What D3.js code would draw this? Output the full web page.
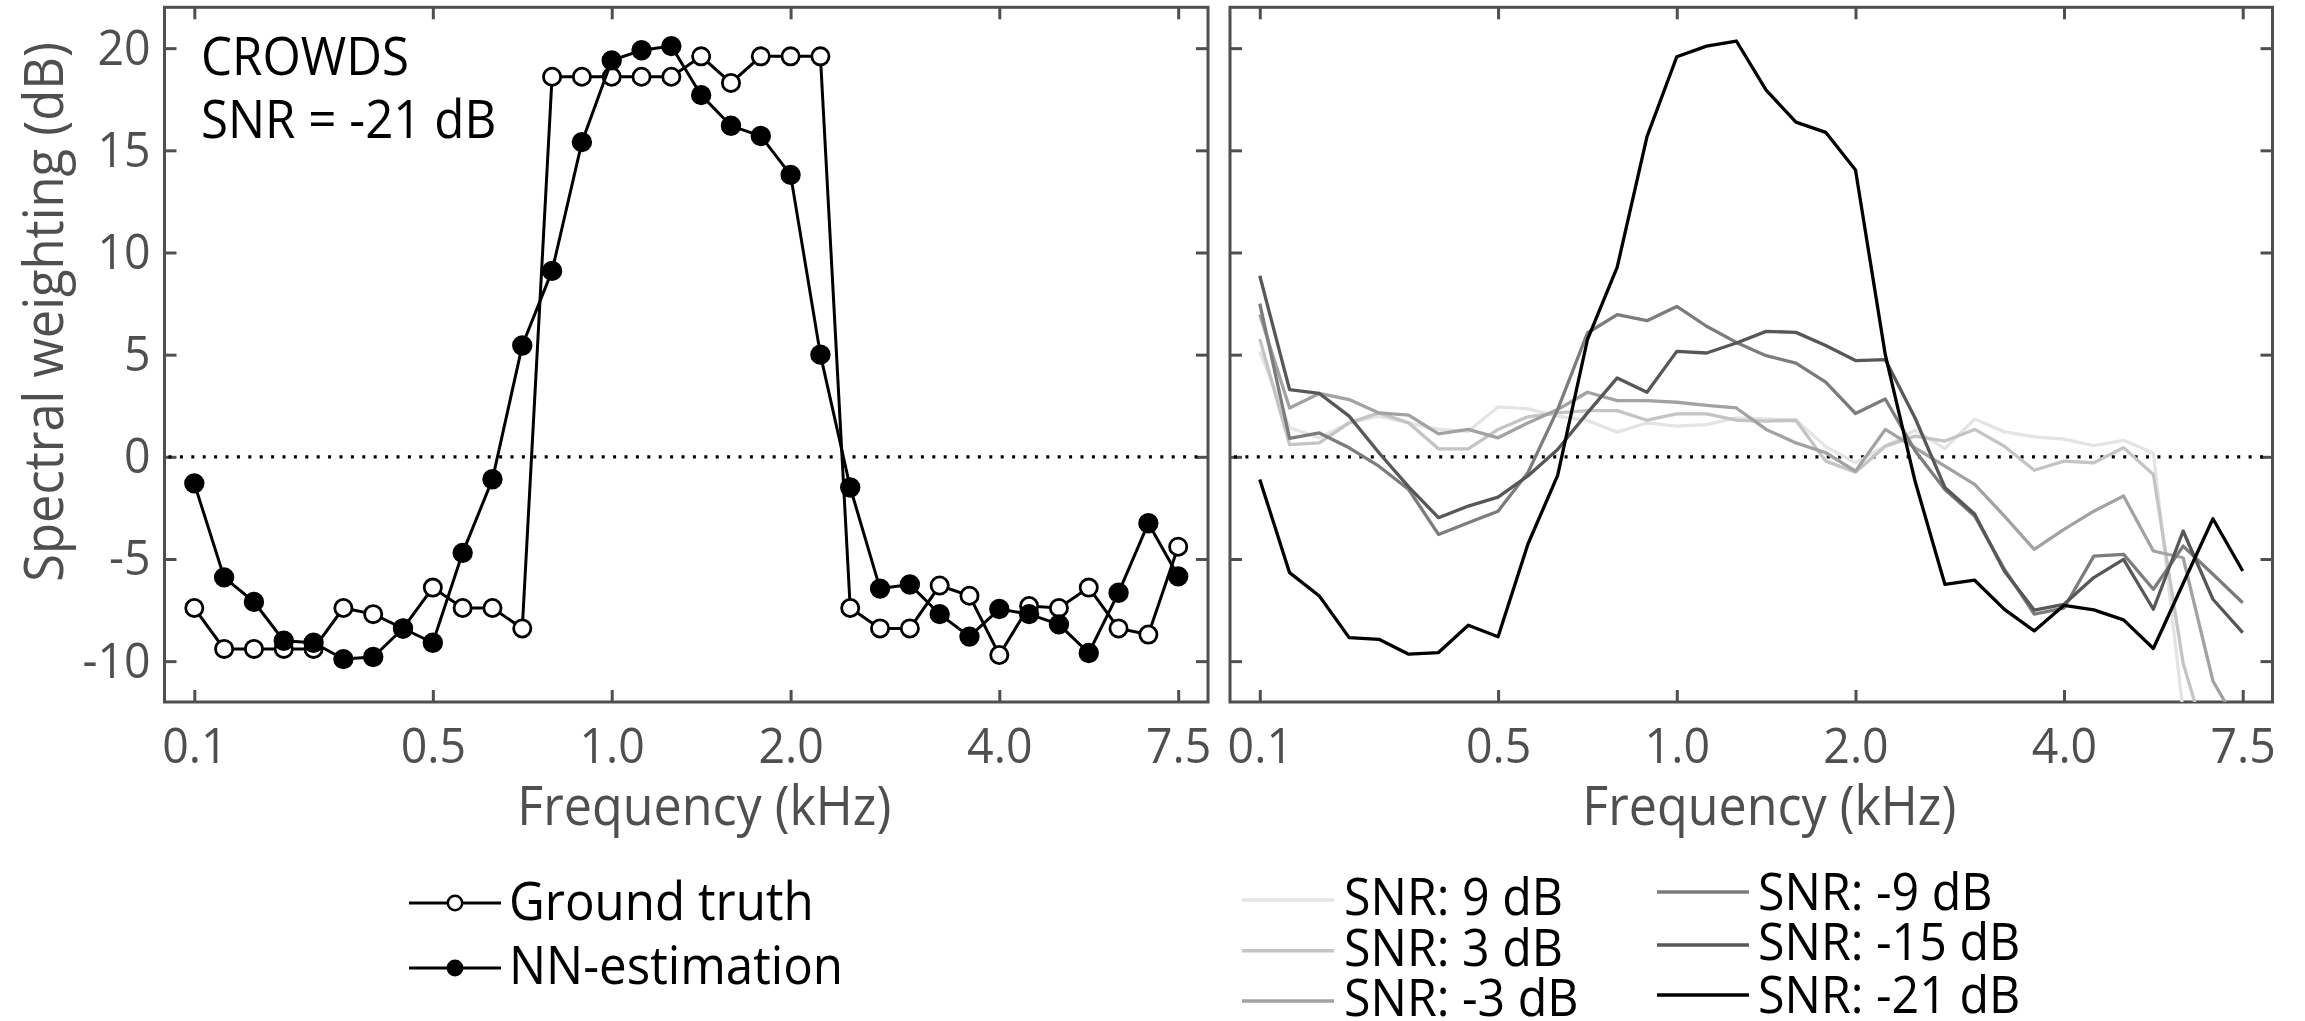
<!DOCTYPE html>
<html><head><meta charset="utf-8">
<script src="https://cdnjs.cloudflare.com/ajax/libs/d3/7.8.5/d3.min.js"></script>
<style>
html,body{margin:0;padding:0;background:#fff;}
svg{display:block;}
text{font-family:"Open Sans",sans-serif;}
</style></head><body>
<svg id="chart" width="2305" height="1021"></svg>
<script>
// ---------- data ----------
const bandIndex = d3.range(34);               // frequency bands (equally spaced on the axis)
const tickIndex = [0, 8, 14, 20, 27, 33];     // band positions of the labelled ticks
const tickLabels = ["0.1", "0.5", "1.0", "2.0", "4.0", "7.5"];
const yTicks = [-10, -5, 0, 5, 10, 15, 20];

const groundTruth = [-7.4,-9.4,-9.4,-9.4,-9.4,-7.4,-7.7,-8.4,-6.4,-7.4,-7.4,-8.4,
  18.6,18.6,18.6,18.6,18.6,19.6,18.3,19.6,19.6,19.6,
  -7.4,-8.4,-8.4,-6.3,-6.8,-9.7,-7.3,-7.4,-6.4,-8.4,-8.7,-4.4];
const nnEstimation = [-1.3,-5.9,-7.1,-9.0,-9.1,-9.9,-9.8,-8.4,-9.1,-4.7,-1.1,5.45,
  9.1,15.4,19.4,19.9,20.1,17.7,16.2,15.7,13.8,5.0,
  -1.5,-6.45,-6.25,-7.7,-8.8,-7.45,-7.7,-8.2,-9.6,-6.65,-3.25,-5.85];

const snrLabels = ["SNR: 9 dB", "SNR: 3 dB", "SNR: -3 dB", "SNR: -9 dB", "SNR: -15 dB", "SNR: -21 dB"];
const snrP9 = [5.16,1.42,0.93,1.66,1.99,1.66,1.34,1.25,2.44,2.35,1.99,1.78,1.21,1.66,1.5,1.58,1.91,
  1.85,1.8,0.5,-0.29,0.52,1.3,0.4,1.85,1.22,0.98,0.87,0.55,0.81,0.18,-12.5,-16,-18];
const snrP3 = [5.77,0.6,0.68,1.66,2.15,1.66,0.39,0.39,1.34,1.96,2.15,2.26,2.26,1.79,2.1,2.1,1.79,
  1.75,1.79,-0.21,-0.75,0.52,1.01,0.77,1.34,0.52,-0.66,-0.21,-0.29,0.45,-0.87,-10.1,-15,-17];
const snrM3 = [6.96,2.39,3.1,2.8,2.15,2.04,1.12,1.34,0.93,1.66,2.31,3.16,2.75,2.75,2.67,2.52,2.39,
  1.34,0.68,0.2,-0.7,1.34,0.44,-0.46,-1.35,-2.9,-4.53,-3.55,-2.66,-1.92,-4.61,-4.94,-10.97,-13.5];
const snrM9 = [7.5,0.9,1.17,0.44,-0.46,-1.6,-3.8,-3.23,-2.66,-0.78,2.31,6.06,6.96,6.66,7.36,6.39,5.6,
  4.95,4.59,3.65,2.12,2.83,0.3,-1.6,-2.9,-5.5,-7.7,-7.4,-4.86,-4.77,-6.48,-4.37,-5.75,-7.14];
const snrM15 = [8.86,3.29,3.1,1.99,0.2,-1.47,-2.98,-2.41,-1.97,-0.94,0.36,2.15,3.86,3.16,5.16,5.08,5.57,
  6.14,6.09,5.45,4.71,4.76,1.9,-1.5,-2.8,-5.6,-7.5,-7.22,-5.91,-5.02,-7.46,-3.63,-6.97,-8.6];
const snrM21 = [-1.11,-5.67,-6.81,-8.85,-8.93,-9.66,-9.58,-8.24,-8.81,-4.28,-0.91,5.73,9.28,15.67,19.58,20.1,20.35,
  17.95,16.38,15.88,14.04,5.0,-1.2,-6.24,-6.04,-7.47,-8.52,-7.27,-7.49,-7.98,-9.38,-6.2,-3.03,-5.59];
const snrSeries = [snrP9, snrP3, snrM3, snrM9, snrM15, snrM21];
const snrColors = ["#e4e4e4", "#c4c4c4", "#a2a2a2", "#7c7c7c", "#575757", "#000000"];

// ---------- drawing ----------
const svg = d3.select("#chart");
const SX = 0.93;          // horizontal squeeze to mimic a narrower humanist face
const axisGray = "#4f4f4f";
const y = d3.scaleLinear().domain([-12, 22]).range([702, 7.3]);
const xL = d3.scaleLinear().domain([-1, 34]).range([164.5, 1208]);
const xR = d3.scaleLinear().domain([-1, 34]).range([1230, 2272.5]);

function stext(g, str, x, yb, size, opts = {}) {
  return g.append("text")
    .attr("transform", `translate(${x},${yb}) ${opts.rotate ? "rotate(-90) " : ""}scale(${SX},1)`)
    .attr("text-anchor", opts.anchor || "start")
    .attr("font-size", size)
    .attr("fill", opts.fill || "#000")
    .text(str);
}

function panel(x, id, showYLabels) {
  const g = svg.append("g");
  const [x0, x1] = x.range();
  const [yb, yt] = y.range();

  g.append("clipPath").attr("id", id).append("rect")
    .attr("x", x0).attr("y", yt).attr("width", x1 - x0).attr("height", yb - yt);

  const styleAxis = sel => {
    sel.select(".domain").remove();
    sel.selectAll(".tick line").attr("stroke", axisGray).attr("stroke-width", 3);
    sel.selectAll(".tick text").attr("fill", axisGray).attr("font-size", 50)
      .attr("font-family", '"Open Sans",sans-serif');
  };

  const bottom = d3.axisBottom(x).tickValues(tickIndex)
    .tickFormat((d, i) => tickLabels[i]).tickSizeInner(-12).tickSizeOuter(0);
  g.append("g").attr("transform", `translate(0,${yb})`).call(bottom).call(styleAxis)
    .call(s => s.selectAll(".tick text").attr("y", 61).attr("dy", null)
      .attr("transform", `scale(${SX},1)`));

  g.append("g").attr("transform", `translate(0,${yt})`)
    .call(d3.axisTop(x).tickValues(tickIndex).tickFormat("").tickSizeInner(-12).tickSizeOuter(0))
    .call(styleAxis);

  const left = d3.axisLeft(y).tickValues(yTicks).tickSizeInner(-12).tickSizeOuter(0).tickPadding(15)
    .tickFormat(d => String(d));
  if (!showYLabels) left.tickFormat("");
  g.append("g").attr("transform", `translate(${x0},0)`).call(left).call(styleAxis)
    .call(s => s.selectAll(".tick text").attr("transform", `scale(${SX},1)`));

  g.append("g").attr("transform", `translate(${x1},0)`)
    .call(d3.axisRight(y).tickValues(yTicks).tickFormat("").tickSizeInner(-12).tickSizeOuter(0))
    .call(styleAxis);

  // zero reference
  g.append("line").attr("x1", x0 + 4).attr("x2", x1 - 4).attr("y1", y(0)).attr("y2", y(0))
    .attr("stroke", "#000").attr("stroke-width", 3.2).attr("stroke-dasharray", "3,8.4");

  // frame
  g.append("rect").attr("x", x0).attr("y", yt).attr("width", x1 - x0).attr("height", yb - yt)
    .attr("fill", "none").attr("stroke", axisGray).attr("stroke-width", 3);

  // axis title
  stext(g, "Frequency (kHz)", (x0 + x1) / 2 + 18, 825, 54, { anchor: "middle", fill: axisGray });
  return g;
}

// ---- left panel ----
const gL = panel(xL, "clipL", true);
stext(gL, "Spectral weighting (dB)", 63, 312, 54.5, { anchor: "middle", fill: axisGray, rotate: true });

const lineL = d3.line().x((d, i) => xL(bandIndex[i])).y(d => y(d));
const plotL = gL.append("g").attr("clip-path", "url(#clipL)");
plotL.append("path").datum(groundTruth).attr("d", lineL)
  .attr("fill", "none").attr("stroke", "#000").attr("stroke-width", 3);
plotL.selectAll("circle.gt").data(groundTruth).join("circle").attr("class", "gt")
  .attr("cx", (d, i) => xL(bandIndex[i])).attr("cy", d => y(d)).attr("r", 8.6)
  .attr("fill", "#fff").attr("stroke", "#000").attr("stroke-width", 2.8);
plotL.append("path").datum(nnEstimation).attr("d", lineL)
  .attr("fill", "none").attr("stroke", "#000").attr("stroke-width", 3);
plotL.selectAll("circle.nn").data(nnEstimation).join("circle").attr("class", "nn")
  .attr("cx", (d, i) => xL(bandIndex[i])).attr("cy", d => y(d)).attr("r", 9.2)
  .attr("fill", "#000").attr("stroke", "#000").attr("stroke-width", 2);

stext(gL, "CROWDS", 201, 75, 53);
stext(gL, "SNR = -21 dB", 201, 138, 53);

// left legend
const legL = svg.append("g");
[{ label: "Ground truth", fill: "#fff", yy: 903, tb: 920 },
 { label: "NN-estimation", fill: "#000", yy: 968, tb: 984 }].forEach(r => {
  legL.append("line").attr("x1", 409).attr("x2", 501).attr("y1", r.yy).attr("y2", r.yy)
    .attr("stroke", "#000").attr("stroke-width", 3);
  legL.append("circle").attr("cx", 455).attr("cy", r.yy).attr("r", 7.2)
    .attr("fill", r.fill).attr("stroke", "#000").attr("stroke-width", 2.5);
  stext(legL, r.label, 509, r.tb, 53);
});

// ---- right panel ----
const gR = panel(xR, "clipR", false);
const lineR = d3.line().x((d, i) => xR(bandIndex[i])).y(d => y(d));
const plotR = gR.append("g").attr("clip-path", "url(#clipR)");
snrSeries.forEach((s, k) => {
  plotR.append("path").datum(s).attr("d", lineR).attr("fill", "none")
    .attr("stroke", snrColors[k]).attr("stroke-width", 3.3).attr("stroke-linejoin", "round");
});

// right legend
const legR = svg.append("g");
const legPos = [
  { lx: 1242, ly: 900, tx: 1344, tb: 915 },
  { lx: 1242, ly: 950.7, tx: 1344, tb: 966 },
  { lx: 1242, ly: 1001, tx: 1344, tb: 1016 },
  { lx: 1657, ly: 892, tx: 1758, tb: 910 },
  { lx: 1657, ly: 945, tx: 1758, tb: 960 },
  { lx: 1657, ly: 995, tx: 1758, tb: 1013 }];
snrLabels.forEach((lab, k) => {
  const p = legPos[k];
  legR.append("line").attr("x1", p.lx).attr("x2", p.lx + 92).attr("y1", p.ly).attr("y2", p.ly)
    .attr("stroke", snrColors[k]).attr("stroke-width", 3.5);
  stext(legR, lab, p.tx, p.tb, 52);
});
</script>
</body></html>
